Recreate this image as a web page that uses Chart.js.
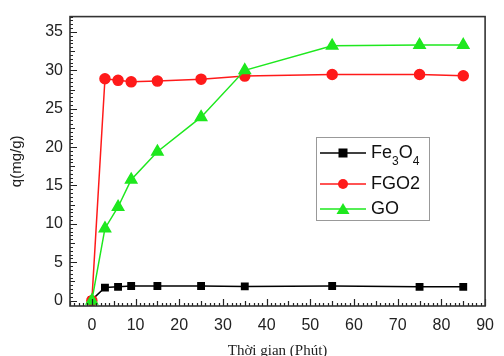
<!DOCTYPE html>
<html><head><meta charset="utf-8">
<script src="https://cdn.jsdelivr.net/npm/chart.js@4"></script>
<style>html,body{margin:0;padding:0;background:#fff}#wrap{width:504px;height:356px}</style>
</head><body><div id="wrap"><canvas id="c" width="504" height="356"></canvas></div>
<script>
const timeMin = [0, 3, 6, 9, 15, 25, 35, 55, 75, 85];
const fe3o4 = [0.1, 1.7, 1.8, 1.9, 1.9, 1.9, 1.85, 1.9, 1.8, 1.8];
const fgo2 = [0, 28.9, 28.7, 28.5, 28.6, 28.85, 29.25, 29.45, 29.45, 29.3];
const go = [0, 9.4, 12.2, 15.75, 19.4, 23.9, 30.0, 33.2, 33.3, 33.3];
const xTicks = [0, 10, 20, 30, 40, 50, 60, 70, 80, 90];
const yTicks = [0, 5, 10, 15, 20, 25, 30, 35];

const pts = arr => timeMin.map((t, i) => ({x: t, y: arr[i]}));

const frame = {
  id: 'frame',
  afterDatasetsDraw(chart) {
    const {ctx, chartArea: a, scales: {x, y}} = chart;
    ctx.save();
    ctx.strokeStyle = '#222';
    ctx.lineWidth = 1.2;
    ctx.beginPath();
    for (let v = -5; v <= 90; v++) {
      const px = Math.round(x.getPixelForValue(v)) + 0.5;
      const len = v % 10 === 0 ? 7 : (v % 5 === 0 ? 5 : 3);
      ctx.moveTo(px, a.bottom); ctx.lineTo(px, a.bottom - len);
    }
    for (let k = 0; k <= 74; k++) {
      const v = k * 0.5;
      const py = Math.round(y.getPixelForValue(v)) + 0.5;
      const len = (k % 10 === 0) ? 7 : (k % 5 === 0 ? 5 : 3);
      ctx.moveTo(a.left, py); ctx.lineTo(a.left + len, py);
    }
    ctx.stroke();
    ctx.lineWidth = 1.6;
    ctx.strokeStyle = '#333';
    ctx.strokeRect(a.left, a.top, a.right - a.left, a.bottom - a.top);
    ctx.restore();
  }
};

const legendBox = {
  id: 'legendBox',
  afterDraw(chart) {
    const {ctx} = chart;
    const L = 316, T = 137, R = 429, B = 220;
    ctx.save();
    ctx.fillStyle = '#fff';
    ctx.fillRect(L, T, R - L, B - T);
    ctx.strokeStyle = '#999';
    ctx.lineWidth = 1;
    ctx.strokeRect(L + 0.5, T + 0.5, R - L, B - T);
    const rows = [
      {ds: chart.data.datasets[2], y: 153},
      {ds: chart.data.datasets[1], y: 184},
      {ds: chart.data.datasets[0], y: 209}
    ];
    rows.forEach(r => {
      const ds = r.ds;
      ctx.strokeStyle = ds.borderColor;
      ctx.lineWidth = 1.5;
      ctx.beginPath(); ctx.moveTo(320, r.y); ctx.lineTo(366, r.y); ctx.stroke();
      ctx.fillStyle = ds.pointBackgroundColor;
      const m = 343;
      if (ds.pointStyle === 'rect') { ctx.fillRect(m - 4.5, r.y - 4.5, 9, 9); }
      else if (ds.pointStyle === 'circle') { ctx.beginPath(); ctx.arc(m, r.y, 5, 0, Math.PI * 2); ctx.fill(); }
      else { ctx.beginPath(); ctx.moveTo(m, r.y - 6); ctx.lineTo(m + 6.5, r.y + 5); ctx.lineTo(m - 6.5, r.y + 5); ctx.closePath(); ctx.fill(); }
      ctx.fillStyle = '#111';
      ctx.textBaseline = 'middle';
      ctx.textAlign = 'left';
      const parts = ds.labelParts;
      let cx = 371;
      parts.forEach(p => {
        ctx.font = p.sub ? '12px "Liberation Sans", Arial, sans-serif' : '18px "Liberation Sans", Arial, sans-serif';
        ctx.fillText(p.t, cx, r.y + (p.sub ? 9 : 0));
        cx += ctx.measureText(p.t).width;
      });
    });
    ctx.restore();
  }
};

new Chart(document.getElementById('c'), {
  type: 'scatter',
  data: {
    datasets: [
      {label: 'GO', labelParts: [{t: 'GO'}], data: pts(go), showLine: true,
       borderColor: '#1ee81e', backgroundColor: '#1ee81e', pointBackgroundColor: '#1ee81e', pointBorderColor: '#1ee81e',
       pointStyle: 'triangle', pointRadius: 6.5, borderWidth: 1.5},
      {label: 'FGO2', labelParts: [{t: 'FGO2'}], data: pts(fgo2), showLine: true,
       borderColor: '#ff1a1a', backgroundColor: '#ff1a1a', pointBackgroundColor: '#ff1a1a', pointBorderColor: '#ff1a1a',
       pointStyle: 'circle', pointRadius: 5, borderWidth: 1.5},
      {label: 'Fe3O4', labelParts: [{t: 'Fe'}, {t: '3', sub: true}, {t: 'O'}, {t: '4', sub: true}], data: pts(fe3o4), showLine: true,
       borderColor: '#000', backgroundColor: '#000', pointBackgroundColor: '#000', pointBorderColor: '#000',
       pointStyle: 'rect', pointRadius: 4.5, borderWidth: 1.5}
    ]
  },
  options: {
    responsive: false,
    animation: false,
    layout: {padding: {left: 0, top: 13, right: 9, bottom: 0}},
    plugins: {legend: {display: false}, tooltip: {enabled: false}},
    scales: {
      x: {
        type: 'linear', min: -5, max: 90,
        afterBuildTicks: s => { s.ticks = xTicks.map(v => ({value: v})); },
        afterFit: s => { s.height = 50; },
        grid: {display: false, drawTicks: false},
        border: {display: false},
        ticks: {color: '#222', padding: 10, maxRotation: 0, font: {family: '"Liberation Sans", Arial, sans-serif', size: 16}},
        title: {display: true, text: 'Thời gian (Phút)', color: '#222', padding: {top: 4, bottom: -4},
                font: {family: '"Liberation Serif", "Times New Roman", serif', size: 15}}
      },
      y: {
        type: 'linear', min: -0.7, max: 37,
        afterBuildTicks: s => { s.ticks = yTicks.map(v => ({value: v})); },
        afterFit: s => { s.width = 70; },
        grid: {display: false, drawTicks: false},
        border: {display: false},
        ticks: {color: '#222', padding: 7, font: {family: '"Liberation Sans", Arial, sans-serif', size: 16}},
        title: {display: true, text: 'q(mg/g)', color: '#222', padding: {top: 8, bottom: 0},
                font: {family: '"Liberation Sans", Arial, sans-serif', size: 15}}
      }
    }
  },
  plugins: [frame, legendBox]
});
</script></body></html>
